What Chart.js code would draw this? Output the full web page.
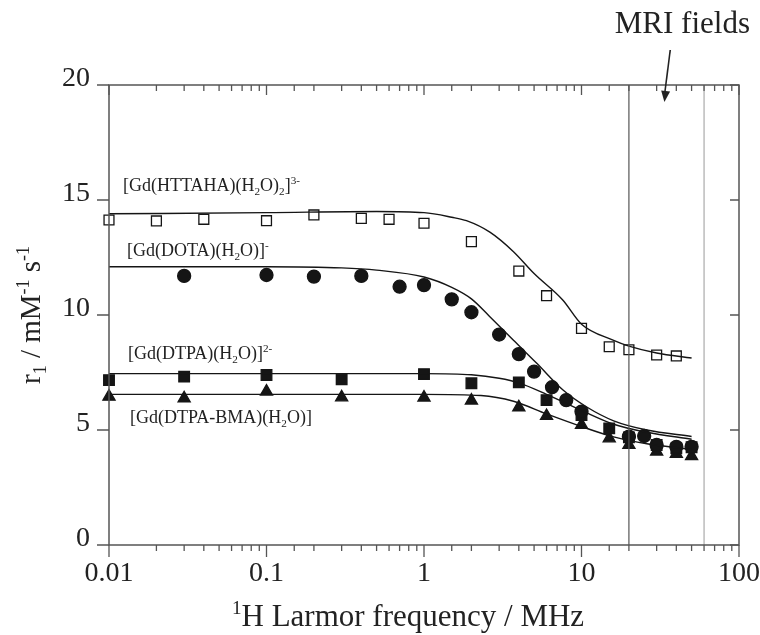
<!DOCTYPE html>
<html><head><meta charset="utf-8">
<script src="https://cdn.jsdelivr.net/npm/chart.js@4.4.1/dist/chart.umd.min.js"></script>
<style>html,body{margin:0;padding:0;background:#fff}#wrap{width:760px;height:635px}</style>
</head><body><div id="wrap"><canvas id="c" width="760" height="635"></canvas></div>
<script>
// ---- data ----
const httahaFreq = [0.01,0.02,0.04,0.1,0.2,0.4,0.6,1,2,4,6,10,15,20,30,40];
const httahaR1   = [14.13,14.09,14.16,14.1,14.35,14.2,14.16,13.99,13.19,11.91,10.84,9.42,8.62,8.49,8.26,8.22];
const dotaFreq   = [0.03,0.1,0.2,0.4,0.7,1,1.5,2,3,4,5,6.5,8,10,20,25,30,40,50];
const dotaR1     = [11.7,11.74,11.67,11.7,11.23,11.3,10.68,10.12,9.15,8.3,7.54,6.86,6.3,5.8,4.71,4.74,4.35,4.27,4.27];
const dtpaFreq   = [0.01,0.03,0.1,0.3,1,2,4,6,10,15,20,30,40,50];
const dtpaR1     = [7.17,7.32,7.39,7.2,7.43,7.03,7.07,6.3,5.65,5.07,4.68,4.35,4.2,4.25];
const bmaFreq    = [0.01,0.03,0.1,0.3,1,2,4,6,10,15,20,30,40,50];
const bmaR1      = [6.45,6.38,6.67,6.42,6.41,6.28,5.99,5.61,5.22,4.64,4.35,4.06,3.96,3.87];

// fitted curves
const httahaFitFreq = [0.01,0.1,0.5,1,1.5,1.86,2.62,3.7,5,7.6,10,16,20,30,50];
const httahaFitR1   = [14.4,14.45,14.5,14.45,14.25,14.1,13.6,12.75,11.8,10.65,9.6,8.9,8.65,8.35,8.13];
const dotaFitFreq   = [0.01,0.1,0.3,0.5,1,1.5,2,2.6,3.7,5.2,7.6,10.8,16,26,50];
const dotaFitR1     = [12.1,12.1,12.05,11.95,11.65,11.2,10.7,9.95,8.9,7.9,6.75,6.0,5.4,5.0,4.72];
const dtpaFitFreq   = [0.01,0.1,1,2,3,4,6,10,16,26,50];
const dtpaFitR1     = [7.45,7.45,7.45,7.4,7.25,7.05,6.55,5.85,5.25,4.9,4.6];
const bmaFitFreq    = [0.01,0.1,1,2.3,3.7,6,10,16,26,50];
const bmaFitR1      = [6.55,6.55,6.55,6.5,6.25,5.7,5.15,4.7,4.4,4.15];

const mriFieldsMHz = [20, 60];
const xTickLabels = ['0.01','0.1','1','10','100'];
const yRange = [0, 20];
const yStep = 5;

// ---- styling ----
const FONT = "'Liberation Serif','Times New Roman',serif";
const AXIS = '#555';
const TXT = '#222';
const INK = '#151515';

const xy = (xs, ys) => xs.map((x, i) => ({x, y: ys[i]}));
const isDecade = v => Math.abs(Math.log10(v) - Math.round(Math.log10(v))) < 1e-6;

function fitDs(f, r) {
  return {type:'scatter', data: xy(f, r), showLine:true, pointRadius:0, borderColor:INK,
          borderWidth:1.4, cubicInterpolationMode:'monotone', fill:false};
}
function markDs(f, r, style, bg, rad) {
  return {type:'scatter', data: xy(f, r), showLine:false, pointStyle:style, pointRadius:rad, clip:false,
          pointHoverRadius:rad, pointBackgroundColor:bg, pointBorderColor:INK, pointBorderWidth:1.3};
}
function fieldDs(f, color) {
  return {type:'scatter', data:[{x:f, y:yRange[0]},{x:f, y:yRange[1]}],
          showLine:true, pointRadius:0, borderColor:color, borderWidth:1.2};
}

const datasets = [
  fieldDs(mriFieldsMHz[0], '#555'),
  fieldDs(mriFieldsMHz[1], '#aaa'),
  fitDs(httahaFitFreq, httahaFitR1),
  fitDs(dotaFitFreq, dotaFitR1),
  fitDs(dtpaFitFreq, dtpaFitR1),
  fitDs(bmaFitFreq, bmaFitR1),
  markDs(httahaFreq, httahaR1, 'rect', '#fff', 7),
  markDs(dotaFreq, dotaR1, 'circle', INK, 6.5),
  markDs(dtpaFreq, dtpaR1, 'rect', INK, 7.5),
  markDs(bmaFreq, bmaR1, 'triangle', INK, 7),
];

// rich text helper (sub/superscripts)
function segFont(s, size) { return (s.s ? size * 0.62 : size) + 'px ' + FONT; }
function richWidth(ctx, segs, size) {
  let w = 0;
  segs.forEach(s => { ctx.font = segFont(s, size); w += ctx.measureText(s.t).width; });
  return w;
}
function drawRich(ctx, segs, x, y, size, align) {
  const w = richWidth(ctx, segs, size);
  let cx = align === 'center' ? x - w / 2 : x;
  segs.forEach(s => {
    ctx.font = segFont(s, size);
    const dy = s.s === 'sub' ? size * 0.22 : s.s === 'sup' ? -size * 0.38 : 0;
    ctx.fillText(s.t, cx, y + dy);
    cx += ctx.measureText(s.t).width;
  });
}

const seriesLabels = [
  {segs:[{t:'[Gd(HTTAHA)(H'},{t:'2',s:'sub'},{t:'O)'},{t:'2',s:'sub'},{t:']'},{t:'3-',s:'sup'}], dx:14, v:15.4},
  {segs:[{t:'[Gd(DOTA)(H'},{t:'2',s:'sub'},{t:'O)]'},{t:'-',s:'sup'}], dx:18, v:12.57},
  {segs:[{t:'[Gd(DTPA)(H'},{t:'2',s:'sub'},{t:'O)]'},{t:'2-',s:'sup'}], dx:19, v:8.09},
  {segs:[{t:'[Gd(DTPA-BMA)(H'},{t:'2',s:'sub'},{t:'O)]'}], dx:21, v:5.3},
];

const deco = {
  id:'deco',
  afterDraw(chart) {
    const {ctx, chartArea:a, scales:{x:xs, y:ys}} = chart;
    ctx.save();
    // frame
    ctx.strokeStyle = AXIS; ctx.lineWidth = 1.5;
    ctx.beginPath();
    ctx.moveTo(a.left, a.top); ctx.lineTo(a.right, a.top); ctx.lineTo(a.right, a.bottom);
    ctx.lineTo(a.left, a.bottom); ctx.closePath(); ctx.stroke();
    // tick marks
    ctx.lineWidth = 1.3;
    ctx.beginPath();
    xs.ticks.forEach(t => {
      const p = xs.getPixelForValue(t.value);
      const major = isDecade(t.value);
      ctx.moveTo(p, a.bottom); ctx.lineTo(p, a.bottom + (major ? 12 : 6));
      ctx.moveTo(p, a.top); ctx.lineTo(p, a.top + (major ? 10 : 6));
    });
    ys.ticks.forEach(t => {
      const p = ys.getPixelForValue(t.value);
      ctx.moveTo(a.left - 12, p); ctx.lineTo(a.left, p);
      ctx.moveTo(a.right - 9, p); ctx.lineTo(a.right, p);
    });
    ctx.stroke();

    ctx.fillStyle = TXT;
    ctx.textBaseline = 'alphabetic';
    // series labels
    seriesLabels.forEach(l => drawRich(ctx, l.segs, a.left + l.dx, ys.getPixelForValue(l.v), 18, 'left'));

    // axis titles
    drawRich(ctx, [{t:'1',s:'sup'},{t:'H Larmor frequency / MHz'}], (a.left + a.right) / 2 - 16, 626, 31, 'center');
    ctx.save();
    ctx.translate(40, (a.top + a.bottom) / 2);
    ctx.rotate(-Math.PI / 2);
    drawRich(ctx, [{t:'r'},{t:'1',s:'sub'},{t:' / mM'},{t:'-1',s:'sup'},{t:' s'},{t:'-1',s:'sup'}], 0, 0, 29, 'center');
    ctx.restore();

    // MRI fields annotation
    const tipX = xs.getPixelForValue(33.6), tipY = a.top + 17;
    const startX = xs.getPixelForValue(36.6), startY = a.top - 35;
    ctx.strokeStyle = '#222'; ctx.lineWidth = 1.6;
    ctx.beginPath(); ctx.moveTo(startX, startY); ctx.lineTo(tipX, tipY - 6); ctx.stroke();
    const ang = Math.atan2(tipY - startY, tipX - startX);
    ctx.fillStyle = '#222';
    ctx.beginPath();
    ctx.moveTo(tipX, tipY);
    ctx.lineTo(tipX - 11 * Math.cos(ang) + 4.5 * Math.sin(ang), tipY - 11 * Math.sin(ang) - 4.5 * Math.cos(ang));
    ctx.lineTo(tipX - 11 * Math.cos(ang) - 4.5 * Math.sin(ang), tipY - 11 * Math.sin(ang) + 4.5 * Math.cos(ang));
    ctx.closePath(); ctx.fill();
    ctx.fillStyle = TXT;
    ctx.font = '31px ' + FONT;
    ctx.textAlign = 'center';
    ctx.fillText('MRI fields', xs.getPixelForValue(43.7), a.top - 52);
    ctx.restore();
  }
};

new Chart(document.getElementById('c'), {
  type:'scatter',
  data:{datasets},
  options:{
    responsive:false, devicePixelRatio:1, animation:false,
    layout:{padding:{top:85, right:21, left:0, bottom:0}},
    plugins:{legend:{display:false}, tooltip:{enabled:false}},
    scales:{
      x:{
        type:'logarithmic', min:0.01, max:100,
        grid:{display:false, drawTicks:false}, border:{display:false},
        afterFit: s => { s.height = 90; s.paddingLeft = 0; s.paddingRight = 0; },
        ticks:{
          autoSkip:false, maxRotation:0, minRotation:0, padding:12, color:TXT,
          font:{family:FONT, size:28},
          callback: v => isDecade(v) ? xTickLabels[Math.round(Math.log10(v)) + 2] : ''
        }
      },
      y:{
        min:yRange[0], max:yRange[1],
        grid:{display:false, drawTicks:false}, border:{display:false},
        afterFit: s => { s.width = 109; s.paddingTop = 0; s.paddingBottom = 0; },
        ticks:{stepSize:yStep, padding:19, labelOffset:-6, color:TXT, font:{family:FONT, size:28}}
      }
    }
  },
  plugins:[deco]
});
</script></body></html>
